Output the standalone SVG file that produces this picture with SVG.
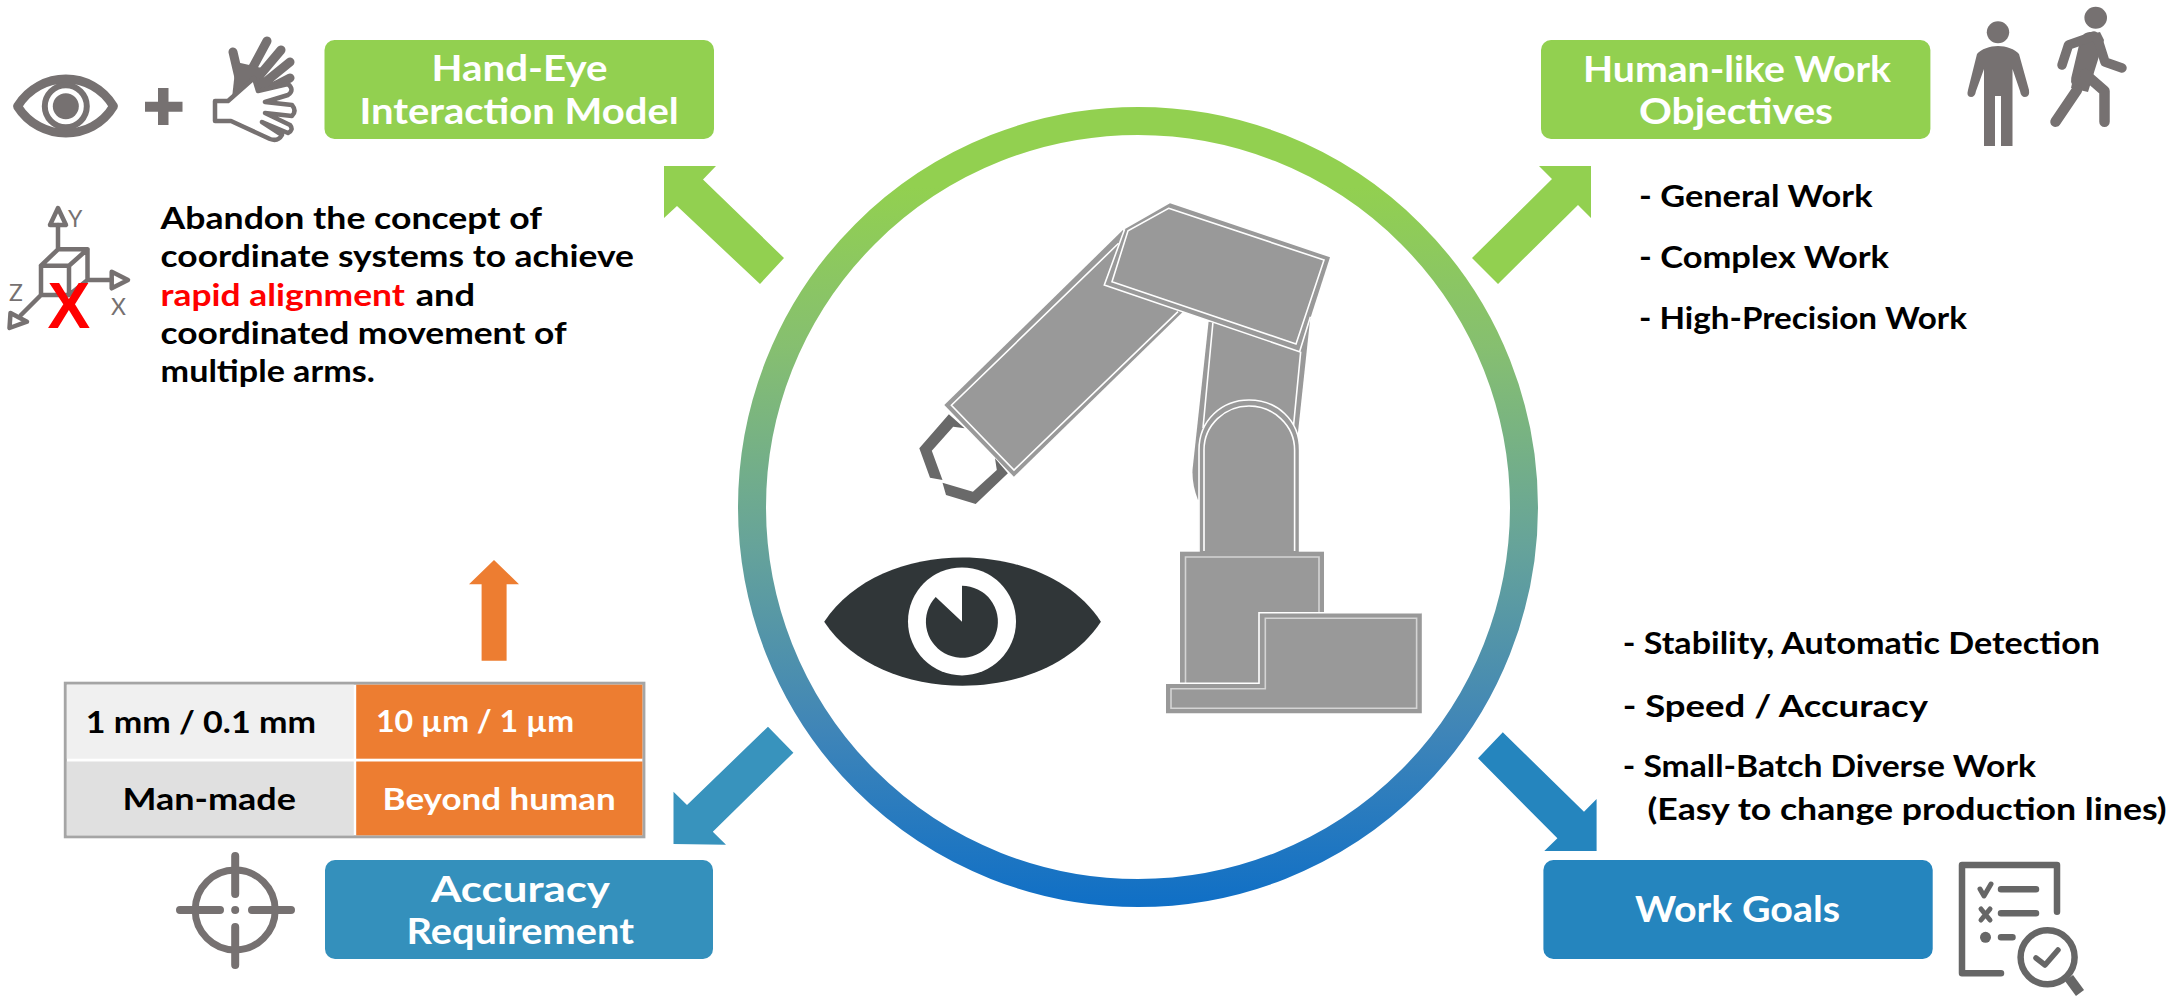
<svg xmlns="http://www.w3.org/2000/svg" width="2182" height="996" viewBox="0 0 2182 996">
<style>
text{font-family:"Lato","Liberation Sans",sans-serif;font-weight:700}
.t{font-size:36px;fill:#fff;text-anchor:start}
.b{font-size:31px;fill:#000}
.c{font-size:30px}
.g{fill:#767171}
.gs{fill:none;stroke:#767171;stroke-linecap:round;stroke-linejoin:round}
.ax{font-size:23px;fill:#767171;font-weight:400}
.ck{fill:none;stroke:#666;stroke-linecap:round;stroke-linejoin:round}
.arm{fill:#999;stroke:none}
.in{fill:none;stroke:#fff;stroke-width:1.6}
.in2{fill:none;stroke:#d4d4d4;stroke-width:1.6}
</style>
<defs>
<linearGradient id="ringGrad" gradientUnits="userSpaceOnUse" x1="0" y1="107" x2="0" y2="907">
<stop offset="0.1" stop-color="#92D050"/>
<stop offset="0.3" stop-color="#86BF70"/>
<stop offset="0.55" stop-color="#66A39A"/>
<stop offset="0.78" stop-color="#3F85B8"/>
<stop offset="1" stop-color="#0F6FC6"/>
</linearGradient>
</defs>
<rect width="2182" height="996" fill="#fff"/>

<g id="center">
<circle cx="1138" cy="507" r="386" fill="none" stroke="url(#ringGrad)" stroke-width="28"/>
<g id="robot">
<polygon fill="#696969" points="948.9,414.3 919.3,448.3 930,477.7 942.5,480 931.8,450.7 953.2,426.7 964.6,428.3"/>
<polygon fill="#696969" points="942.5,482.7 946,495 975.7,504 1007.9,473.3 995,458.3 996.8,470 972.9,491.7"/>
<path class="arm" d="M1208.6,321.7L1310.4,316.7L1297.9,433L1198,500Q1192,485 1192.5,470Z"/>
<path class="in" d="M1212.9,322.7L1203,428M1300.7,351.7L1293.6,425"/>
<polygon class="arm" points="944.3,405 1122.9,230 1182.9,311.7 1013.9,476.7"/>
<polyline class="in" points="1118.6,243.3 951.4,405.3 1014,470 1178,311.7"/>
<polygon class="arm" points="1170,203.3 1330,257.3 1299.6,351.7 1104.3,285 1124.6,229.3" stroke="none"/>
<polyline class="in" points="1310.4,316.7 1299.6,351.7 1104.3,285 1124.6,229.3"/>
<polygon class="in" points="1168.6,208.3 1324,260 1296,344 1112,281.7 1128,230.7"/>
<path class="arm" d="M1198.9,552V450C1198.9,420 1222,400 1249,400C1277,400 1299.6,420 1299.6,450V552Z"/>
<path class="in" d="M1199,552V450C1199,420 1222,400 1249,400C1277,400 1299.6,420 1299.6,450V552" stroke-width="1"/>
<path class="in" d="M1204,551V450C1204,425 1225,406 1249,406C1273,406 1294.6,425 1294.6,450V551"/>
<rect class="arm" x="1180" y="551.7" width="144" height="140"/>
<polyline class="in2" points="1185.5,684 1185.5,557 1319,557 1319,613"/>
<polygon class="arm" points="1259,612.7 1421.8,612.7 1421.8,713.3 1166,713.3 1166,683.3 1259,683.3"/>
<polyline fill="none" stroke="#fff" stroke-width="1.6" points="1166,683.3 1259,683.3 1259,612.7 1421.8,612.7"/>
<polygon class="in2" points="1265.3,618.3 1416.6,618.3 1416.6,708.3 1171,708.3 1171,688.7 1265.3,688.7"/>
</g>
<g id="eye">
<path fill="#303638" d="M824.2,621.7C880,536 1045,536 1100.9,621.7C1045,707 880,707 824.2,621.7Z"/>
<circle cx="962" cy="621.4" r="54" fill="#fff"/>
<path fill="#303638" d="M962,621.7V585.7A36,36 0 1 1 935.7,597Z"/>
</g>
</g>

<g id="connectors">
<polygon fill="#92D050" points="664,166 716,166 703,179.5 784,258 760,284 677,206 664,218"/>
<polygon fill="#92D050" points="1591,166 1539,166 1552,179 1472,258 1498,284 1578,205 1591,218"/>
<polygon fill="#3893BD" points="768,726.7 793.4,752.7 712.8,831.7 726,844.7 673.5,844 673.5,791.7 687,805"/>
<polygon fill="#2585BE" points="1502.8,732.3 1478,758.3 1557.4,838.3 1544.3,851 1596.6,851 1596.6,799 1584,811.7"/>
<polygon fill="#ED7D31" points="494,560 519,584.3 506.6,584.3 506.6,660.7 481.6,660.7 481.6,584.3 469,584.3"/>
</g>

<g id="node-hand-eye">
<rect x="324.5" y="40" width="389.5" height="99" rx="10" fill="#92D050"/>
<text class="t" x="431.6" y="81" textLength="176" lengthAdjust="spacingAndGlyphs">Hand-Eye</text>
<text class="t" x="359.4" y="124" textLength="319.4" lengthAdjust="spacingAndGlyphs">Interaction Model</text>
</g>
<g id="icon-eye">
<path class="gs" stroke-width="9" d="M17.5,106.3C40,70 92,70 113.5,106.3C92,142 40,142 17.5,106.3Z"/>
<circle class="gs" cx="65.8" cy="106.3" r="21" stroke-width="6"/>
<circle class="g" cx="65.8" cy="106.3" r="13"/>
</g>
<g id="icon-plus"><path class="g" d="M158,88H168.5V101.7H182.5V111.7H168.5V125H158V111.7H145V101.7H158Z"/></g>
<g id="icon-hand">
<g class="gs" stroke-width="9">
<path d="M233,52L240,82M267,41L245,82M281,50L249,88M290,62L253,92M290,78L255,96"/>
</g>
<polygon class="g" points="236,62 262,68 258,88 232,98"/>
<path d="M215,101L228,101L254,78L258,91L288,84Q295,90 288,95L265,102L292,105Q297,111 292,116L265,113L290,125Q294,130 288,133L262,122L282,135Q278,142 270,139L244,127L231,121L215,121Z" fill="#fff" stroke="#767171" stroke-width="4.5" stroke-linejoin="round"/>
</g>
<g id="icon-axes">
<g class="gs" stroke-width="4.5">
<path d="M58,225V249.3M41,265.7H69V295H41ZM41,265.7L58,249.3H87.5V280L69,295M69,265.7L87.5,249.3M87.5,280H111.7M41,295L21,315"/>
<polygon points="58,208 66,225 50,225"/>
<polygon points="111.7,271.7 128,280 111.7,288.3"/>
<polygon points="9.5,328 10.5,313 27,321.7"/>
</g>
<text class="ax" x="68" y="227">Y</text>
<text class="ax" x="111" y="315">X</text>
<text class="ax" x="9" y="301">Z</text>
<text x="47.5" y="328" style="font-family:'Liberation Sans',sans-serif;font-size:64px;fill:#f00;font-weight:700">X</text>
</g>
<g id="desc-left">
<text class="b" x="160.6" y="229.3" textLength="381.4" lengthAdjust="spacingAndGlyphs">Abandon the concept of</text>
<text class="b" x="160.6" y="267" textLength="473.4" lengthAdjust="spacingAndGlyphs">coordinate systems to achieve</text>
<text class="b" x="160.6" y="306" textLength="244.4" lengthAdjust="spacingAndGlyphs" style="fill:#f00">rapid alignment</text>
<text class="b" x="415.7" y="306" textLength="59.3" lengthAdjust="spacingAndGlyphs">and</text>
<text class="b" x="160.6" y="344" textLength="406" lengthAdjust="spacingAndGlyphs">coordinated movement of</text>
<text class="b" x="160.6" y="382" textLength="214.2" lengthAdjust="spacingAndGlyphs">multiple arms.</text>
</g>

<g id="node-objectives">
<rect x="1541" y="40" width="389.4" height="99" rx="10" fill="#92D050"/>
<text class="t" x="1583" y="81.7" textLength="308" lengthAdjust="spacingAndGlyphs">Human-like Work</text>
<text class="t" x="1639" y="124" textLength="194" lengthAdjust="spacingAndGlyphs">Objectives</text>
</g>
<g id="icon-people">
<ellipse class="g" cx="1998" cy="32.3" rx="11.2" ry="11"/>
<path class="g" d="M1998,46C2006,46 2015,49 2019,54L2029,90Q2030,97 2025,97Q2021,97 2020,91L2012.5,69V146H2001V96H1995V146H1984V69L1976,91Q1975,97 1971,97Q1966,97 1968,90L1977,54C1981,49 1990,46 1998,46Z"/>
<ellipse class="g" cx="2095.7" cy="17.7" rx="11.3" ry="11"/>
<path class="gs" stroke-width="20" d="M2090,42L2081,80"/>
<polygon class="g" points="2083,36 2100,32 2104,40 2088,92 2071,88"/>
<path class="gs" stroke-width="9.5" d="M2094,36L2068.5,45L2062,65M2098,40L2105,62L2122,68"/>
<path class="gs" stroke-width="10.5" d="M2077,90L2055.5,121.7M2085,74L2104.5,91V121.7"/>
</g>
<g id="desc-right">
<text class="b" x="1639" y="207" textLength="233.5" lengthAdjust="spacingAndGlyphs">- General Work</text>
<text class="b" x="1639" y="268" textLength="250" lengthAdjust="spacingAndGlyphs">- Complex Work</text>
<text class="b" x="1639" y="329" textLength="328" lengthAdjust="spacingAndGlyphs">- High-Precision Work</text>
</g>

<g id="node-accuracy">
<rect x="325" y="860" width="388" height="99" rx="10" fill="#3490BC"/>
<text class="t" x="431" y="901.7" textLength="179" lengthAdjust="spacingAndGlyphs">Accuracy</text>
<text class="t" x="406.6" y="944" textLength="227.4" lengthAdjust="spacingAndGlyphs">Requirement</text>
</g>
<g id="icon-target" class="gs" stroke-width="8">
<circle cx="235.2" cy="910" r="40" stroke-width="7"/>
<path d="M180,910H220M252,910H291M235.2,856V894M235.2,927V965"/>
<circle cx="235.2" cy="910" r="4" fill="#767171" stroke="none"/>
</g>
<g id="table">
<rect x="65.3" y="683.2" width="578.6" height="153.6" fill="#fff" stroke="#A5A5A5" stroke-width="3"/>
<rect x="66.8" y="684.7" width="287" height="74" fill="#F0F0F0"/>
<rect x="66.8" y="761.5" width="287" height="73.8" fill="#E0E0E0"/>
<rect x="356.2" y="684.7" width="286.2" height="74" fill="#ED7D31"/>
<rect x="356.2" y="761.5" width="286.2" height="73.8" fill="#ED7D31"/>
<text class="c" x="85.7" y="732.7" textLength="230.3" lengthAdjust="spacingAndGlyphs">1 mm / 0.1 mm</text>
<text class="c" x="376" y="731.7" textLength="198" lengthAdjust="spacingAndGlyphs" fill="#fff">10 µm / 1 µm</text>
<text class="c" x="122.4" y="810" textLength="173.6" lengthAdjust="spacingAndGlyphs">Man-made</text>
<text class="c" x="382.6" y="810" textLength="233.2" lengthAdjust="spacingAndGlyphs" fill="#fff">Beyond human</text>
</g>

<g id="node-work-goals">
<rect x="1543.4" y="860" width="389.3" height="99" rx="10" fill="#2585BE"/>
<text class="t" x="1635" y="921.7" textLength="205" lengthAdjust="spacingAndGlyphs">Work Goals</text>
</g>
<g id="icon-checklist" class="ck" stroke-width="6.5">
<path d="M2057,911.7V865H1962V973.3H2001"/>
<path d="M2001,889.3H2036M2001,913.3H2036M2001,937.3H2012.5"/>
<path stroke-width="5" d="M1980,889L1984,896L1991,884M1981,909L1990,920M1990,909L1981,920"/>
<circle cx="1985.5" cy="937.3" r="5.5" fill="#666" stroke="none"/>
<ellipse cx="2047.6" cy="957.3" rx="27" ry="27"/>
<path stroke-width="5.5" d="M2036,958L2045,965L2058,950"/>
<path stroke-width="10" stroke-linecap="butt" d="M2069,978L2080,993"/>
</g>
<g id="desc-goals">
<text class="b" x="1622.7" y="654" textLength="477.3" lengthAdjust="spacingAndGlyphs">- Stability, Automatic Detection</text>
<text class="b" x="1622.7" y="716.7" textLength="305.3" lengthAdjust="spacingAndGlyphs">- Speed / Accuracy</text>
<text class="b" x="1622.7" y="777" textLength="413.3" lengthAdjust="spacingAndGlyphs">- Small-Batch Diverse Work</text>
<text class="b" x="1647.5" y="820" textLength="519.1" lengthAdjust="spacingAndGlyphs">(Easy to change production lines)</text>
</g>
</svg>
